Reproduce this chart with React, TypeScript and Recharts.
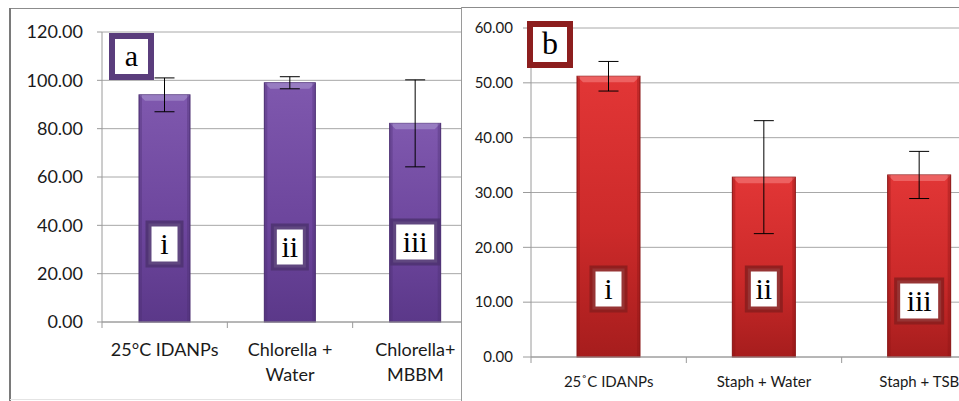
import { BarChart, Bar, XAxis, YAxis, CartesianGrid, ErrorBar, LabelList } from 'recharts';

const CATS_A = ['25°C IDANPs', 'Chlorella +\nWater', 'Chlorella+\nMBBM'];
const MEANS_A = [94, 99, 82.2];
const ERR_A = [7, 2.5, 18];
const TICKS_A = [0, 20, 40, 60, 80, 100, 120];

const CATS_B = ['25˚C IDANPs', 'Staph + Water', 'Staph + TSB'];
const MEANS_B = [51.2, 32.8, 33.2];
const ERR_B = [2.7, 10.3, 4.3];
const TICKS_B = [0, 10, 20, 30, 40, 50, 60];

const ROMAN = ['i', 'ii', 'iii'];

// vertical centre of the roman-numeral boxes (px)
const BOX_Y_A = [244, 247, 242];
const BOX_Y_B = [289, 289, 301];

const dataA = CATS_A.map((c, i) => ({ name: c, value: MEANS_A[i], err: ERR_A[i], tag: ROMAN[i] }));
const dataB = CATS_B.map((c, i) => ({ name: c, value: MEANS_B[i], err: ERR_B[i], tag: ROMAN[i] }));

const TICK_FONT = 'Lato, "Open Sans", sans-serif';
const SERIF = '"Liberation Serif", "DejaVu Serif", serif';

function BevelBar(props: any) {
  const { x, y, width, height, gid, light, dark } = props;
  if (!height || height <= 0) return null;
  const b = 6;
  return (
    <g>
      <rect x={x} y={y} width={width} height={height} fill={`url(#${gid})`} stroke={dark} strokeWidth={1} />
      <polygon
        points={`${x},${y} ${x + width},${y} ${x + width - b},${y + b} ${x + b},${y + b}`}
        fill={light}
        opacity={0.75}
      />
      <rect x={x} y={y} width={3} height={height} fill={dark} opacity={0.35} />
      <rect x={x + width - 3} y={y} width={3} height={height} fill={dark} opacity={0.35} />
    </g>
  );
}

function makeBox(boxY: number[], color: string) {
  return (props: any) => {
    const { x, width, value, index } = props;
    const cx = x + width / 2;
    const cy = boxY[index];
    const w = value === 'iii' ? 50 : 38;
    const h = 47;
    return (
      <g>
        <rect x={cx - w / 2 + 3} y={cy - h / 2 + 3} width={w - 6} height={h - 6} fill="#fff" stroke={color} strokeWidth={6} strokeOpacity={0.9} />
        <text x={cx} y={cy + 10} textAnchor="middle" fontFamily={SERIF} fontSize={30} fill="#000">
          {value}
        </text>
      </g>
    );
  };
}

function makeXTick(band: number, fontSize: number, dy: number, lineGap: number) {
  return (props: any) => {
    const { x, y, payload } = props;
    const lines = String(payload.value).split('\n');
    const left = x - band / 2;
    return (
      <g>
        <line x1={left} y1={y} x2={left} y2={y + 6} stroke="#9a9a9a" />
        <text x={x} y={y + dy} textAnchor="middle" fontFamily={TICK_FONT} fontSize={fontSize} fill="#1a1a1a">
          {lines.map((l, i) => (
            <tspan key={i} x={x} dy={i === 0 ? 0 : lineGap}>
              {l}
            </tspan>
          ))}
        </text>
      </g>
    );
  };
}

export default function App() {
  return (
    <div style={{ position: 'absolute', left: 0, top: 0, width: 959, height: 401, background: '#fff', overflow: 'hidden' }}>
      {/* panel a */}
      <div style={{ position: 'absolute', left: 0, top: 0, width: 461, height: 401, overflow: 'hidden' }}>
        <BarChart width={480} height={401} data={dataA} margin={{ top: 32, right: 2, left: 0, bottom: 0 }}>
          <defs>
            <linearGradient id="gA" x1="0" y1="0" x2="0" y2="1">
              <stop offset="0%" stopColor="#7f58ae" />
              <stop offset="60%" stopColor="#6c459c" />
              <stop offset="100%" stopColor="#5b3889" />
            </linearGradient>
          </defs>
          <CartesianGrid vertical={false} stroke="#a8a8a8" />
          <XAxis
            dataKey="name"
            height={79}
            interval={0}
            tickLine={false}
            tickSize={0}
            tickMargin={0}
            axisLine={{ stroke: '#9a9a9a' }}
            tick={makeXTick(125.33, 18, 34, 25)}
          />
          <YAxis
            width={102}
            domain={[0, 120]}
            ticks={TICKS_A}
            tickFormatter={(v: number) => v.toFixed(2)}
            tickSize={5}
            tickMargin={14}
            tickLine={{ stroke: '#9a9a9a' }}
            axisLine={{ stroke: '#9a9a9a' }}
            tick={{ fontSize: 18, fill: '#1a1a1a', fontFamily: TICK_FONT }}
          />
          <Bar
            dataKey="value"
            barSize={51}
            isAnimationActive={false}
            shape={(p: any) => <BevelBar {...p} gid="gA" light="#a088c8" dark="#4a2d70" />}
          >
            <ErrorBar dataKey="err" width={10} stroke="#000" strokeWidth={1} />
            <LabelList dataKey="tag" content={makeBox(BOX_Y_A, '#4f3372')} />
          </Bar>
        </BarChart>
        <div
          style={{
            position: 'absolute', left: 109, top: 33, width: 33, height: 35,
            border: '6px solid #5a3d7c', background: '#fff',
            fontFamily: SERIF, fontSize: 30, lineHeight: '33px', textAlign: 'center', color: '#000',
          }}
        >
          a
        </div>
      </div>

      {/* panel a frame */}
      <div style={{ position: 'absolute', left: 10, top: 8, width: 452, height: 1, background: '#8c8c8c' }} />
      <div style={{ position: 'absolute', left: 9, top: 8, width: 2, height: 393, background: '#7a7a7a' }} />
      <div style={{ position: 'absolute', left: 10, top: 399, width: 452, height: 1, background: '#e4e4e4' }} />

      {/* panel b */}
      <div style={{ position: 'absolute', left: 462, top: 0, width: 497, height: 401, overflow: 'hidden' }}>
        <BarChart width={537} height={401} data={dataB} margin={{ top: 28, right: 2, left: 0, bottom: 0 }}>
          <defs>
            <linearGradient id="gB" x1="0" y1="0" x2="0" y2="1">
              <stop offset="0%" stopColor="#e23636" />
              <stop offset="55%" stopColor="#cc2a2a" />
              <stop offset="100%" stopColor="#a61d1d" />
            </linearGradient>
          </defs>
          <CartesianGrid vertical={false} stroke="#a8a8a8" />
          <XAxis
            dataKey="name"
            height={44}
            interval={0}
            tickLine={false}
            tickSize={0}
            tickMargin={0}
            axisLine={{ stroke: '#9a9a9a' }}
            tick={makeXTick(155.33, 15, 30, 20)}
          />
          <YAxis
            width={69}
            domain={[0, 60]}
            ticks={TICKS_B}
            tickFormatter={(v: number) => v.toFixed(2)}
            tickSize={8}
            tickMargin={10}
            tickLine={{ stroke: '#9a9a9a' }}
            axisLine={{ stroke: '#9a9a9a' }}
            tick={{ fontSize: 15, fill: '#1a1a1a', fontFamily: TICK_FONT }}
          />
          <Bar
            dataKey="value"
            barSize={63}
            isAnimationActive={false}
            shape={(p: any) => <BevelBar {...p} gid="gB" light="#f07070" dark="#8a1515" />}
          >
            <ErrorBar dataKey="err" width={10} stroke="#000" strokeWidth={1} />
            <LabelList dataKey="tag" content={makeBox(BOX_Y_B, '#8c1e1e')} />
          </Bar>
        </BarChart>
        <div
          style={{
            position: 'absolute', left: 65, top: 21, width: 34, height: 35,
            border: '6px solid #8c1e1e', background: '#fff',
            fontFamily: SERIF, fontSize: 32, lineHeight: '33px', textAlign: 'center', color: '#000',
          }}
        >
          b
        </div>
      </div>

      {/* panel b frame */}
      <div style={{ position: 'absolute', left: 461, top: 7, width: 498, height: 1, background: '#8c8c8c' }} />
      <div style={{ position: 'absolute', left: 461, top: 7, width: 1, height: 394, background: '#9a9a9a' }} />
    </div>
  );
}
